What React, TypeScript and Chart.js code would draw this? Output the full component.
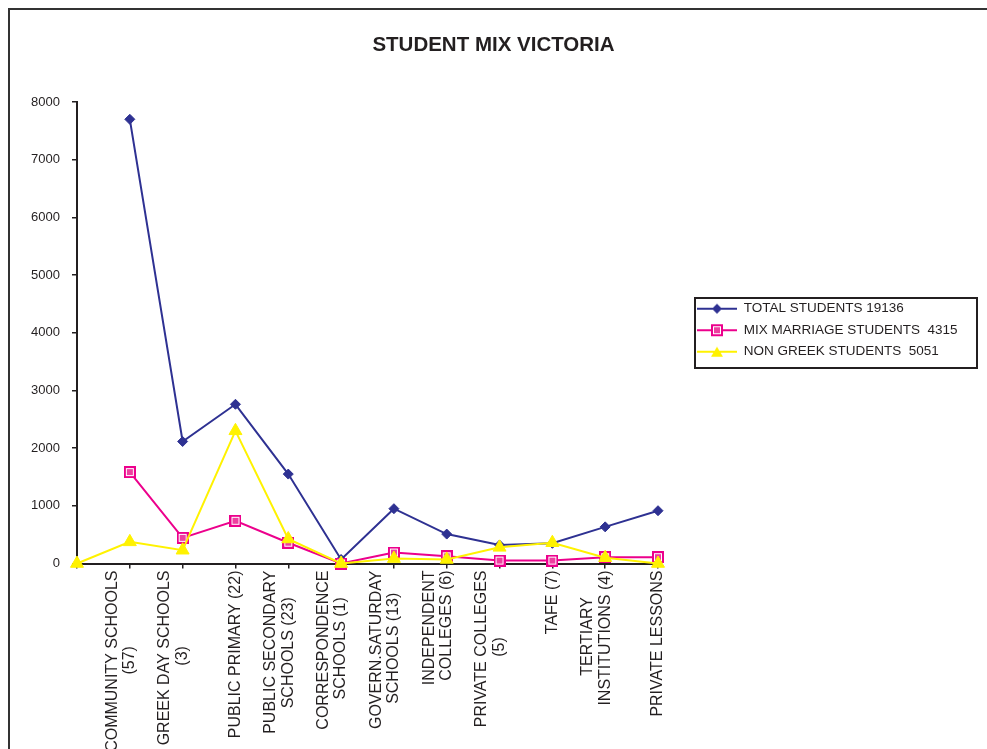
import React, { useEffect, useRef } from 'react';
import { Chart, registerables } from 'chart.js';

Chart.register(...registerables);

// ---------------- data ----------------
const categories: string[][] = [
  [],
  ['COMMUNITY SCHOOLS', '(57)'],
  ['GREEK DAY SCHOOLS', '(3)'],
  ['PUBLIC PRIMARY (22)'],
  ['PUBLIC SECONDARY', 'SCHOOLS (23)'],
  ['CORRESPONDENCE', 'SCHOOLS (1)'],
  ['GOVERN.SATURDAY', 'SCHOOLS (13)'],
  ['INDEPENDENT', 'COLLEGES (6)'],
  ['PRIVATE COLLEGES', '(5)'],
  ['TAFE (7)'],
  ['TERTIARY', 'INSTITUTIONS (4)'],
  ['PRIVATE LESSONS'],
];

const totalStudents = [null, 7700, 2115, 2760, 1550, 70, 950, 510, 320, 350, 635, 915];
const mixMarriageStudents = [null, 1585, 445, 740, 360, 0, 190, 125, 50, 50, 110, 110];
const nonGreekStudents = [0, 375, 230, 2300, 425, 0, 85, 70, 280, 360, 100, 0];

const seriesNames = [
  'TOTAL STUDENTS 19136',
  'MIX MARRIAGE STUDENTS  4315',
  'NON GREEK STUDENTS  5051',
];

const yTicks = [0, 1000, 2000, 3000, 4000, 5000, 6000, 7000, 8000];
const chartTitle = 'STUDENT MIX VICTORIA';

// ---------------- styles ----------------
const FONT = '"Liberation Sans", Arial, Helvetica, sans-serif';
const INK = '#231F20';
const BLUE = '#2E3192';
const PINK = '#EC008C';
const YELLOW = '#FFF200';

const CANVAS_W = 977;
const CANVAS_H = 739;
const X_FONT = 16;
const X_LINE_H = 1.1;
const LEGEND_W = 319;

const measureCtx = document.createElement('canvas').getContext('2d') as CanvasRenderingContext2D;

function layoutLabel(lines: string[]): string[] {
  if (!lines || !lines.length) return [''];
  measureCtx.font = `${X_FONT}px ${FONT}`;
  const widths = lines.map((l) => measureCtx.measureText(l).width);
  const maxW = Math.max(...widths);
  const spaceW = measureCtx.measureText(' ').width || 4;
  const padded = lines.map((l, i) => l + ' '.repeat(Math.max(0, Math.round((maxW - widths[i]) / 2 / spaceW))));
  return padded.length === 1 ? ['', padded[0]] : padded;
}

function makePinkSquare(): HTMLCanvasElement {
  const c = document.createElement('canvas');
  c.width = 12;
  c.height = 12;
  const g = c.getContext('2d') as CanvasRenderingContext2D;
  g.fillStyle = PINK;
  g.fillRect(0, 0, 12, 12);
  g.strokeStyle = '#ffffff';
  g.lineWidth = 1;
  g.strokeRect(2.5, 2.5, 7, 7);
  g.fillStyle = '#EE3FA0';
  g.fillRect(3, 3, 6, 6);
  return c;
}

function makeLegendSample(kind: number): HTMLCanvasElement {
  const c = document.createElement('canvas');
  c.width = 40;
  c.height = 16;
  const g = c.getContext('2d') as CanvasRenderingContext2D;
  const color = kind === 0 ? BLUE : kind === 1 ? PINK : YELLOW;
  g.strokeStyle = color;
  g.lineWidth = 2;
  g.beginPath();
  g.moveTo(0, 8);
  g.lineTo(40, 8);
  g.stroke();
  g.fillStyle = color;
  if (kind === 0) {
    g.beginPath();
    g.moveTo(20, 3);
    g.lineTo(25, 8);
    g.lineTo(20, 13);
    g.lineTo(15, 8);
    g.closePath();
    g.fill();
  } else if (kind === 1) {
    g.drawImage(makePinkSquare(), 14, 2);
  } else {
    g.beginPath();
    g.moveTo(20, 3);
    g.lineTo(26, 13);
    g.lineTo(14, 13);
    g.closePath();
    g.fill();
  }
  return c;
}

const legendBoxPlugin = {
  id: 'legendBox',
  beforeLayout(chart: any) {
    const lg = chart.legend;
    if (lg && !lg.__patched) {
      const orig = lg.fit.bind(lg);
      lg.fit = function () {
        orig();
        this.width = LEGEND_W;
      };
      lg.__patched = true;
    }
  },
  afterLayout(chart: any) {
    const lg = chart.legend;
    if (lg) {
      lg.left += 31;
      lg.top = 89.5;
      lg.bottom = 551;
      lg.height = lg.bottom - lg.top;
    }
  },
  afterDraw(chart: any) {
    const lg = chart.legend;
    if (!lg || !lg.legendHitBoxes || !lg.legendHitBoxes.length) return;
    const hb = lg.legendHitBoxes;
    const first = hb[0];
    const last = hb[hb.length - 1];
    const ctx = chart.ctx;
    const left = first.left - 2;
    const right = chart.width - 10;
    const top = first.top - 4;
    const bottom = last.top + last.height + 9.5;
    ctx.save();
    ctx.strokeStyle = INK;
    ctx.lineWidth = 2;
    ctx.strokeRect(left, top, right - left, bottom - top);
    ctx.restore();
  },
};

export default function App() {
  const canvasRef = useRef<HTMLCanvasElement | null>(null);

  useEffect(() => {
    document.documentElement.style.overflow = 'hidden';
    const canvas = canvasRef.current;
    if (!canvas) return;
    Chart.defaults.font.family = FONT;
    const pinkSquare = makePinkSquare();
    const legendSamples = [0, 1, 2].map((k) => makeLegendSample(k));

    const chart = new Chart(canvas, {
      type: 'line',
      data: {
        labels: categories.map((c) => c.join(' ')),
        datasets: [
          {
            label: seriesNames[0],
            data: totalStudents,
            borderColor: BLUE,
            backgroundColor: BLUE,
            borderWidth: 2,
            pointStyle: 'rectRot',
            pointRadius: 5,
            pointBorderWidth: 1,
            pointBackgroundColor: BLUE,
            pointBorderColor: BLUE,
            clip: false,
            order: 2,
          },
          {
            label: seriesNames[1],
            data: mixMarriageStudents,
            borderColor: PINK,
            backgroundColor: PINK,
            borderWidth: 2,
            pointStyle: pinkSquare,
            pointRadius: 6,
            clip: false,
            order: 1,
          },
          {
            label: seriesNames[2],
            data: nonGreekStudents,
            borderColor: YELLOW,
            backgroundColor: YELLOW,
            borderWidth: 2,
            pointStyle: 'triangle',
            pointRadius: 7.5,
            pointBorderWidth: 1,
            pointBackgroundColor: YELLOW,
            pointBorderColor: YELLOW,
            clip: false,
            order: 0,
          },
        ] as any,
      },
      options: {
        animation: false,
        responsive: false,
        layout: { padding: { left: 0, right: 10, top: 0, bottom: 0 } },
        elements: { line: { tension: 0 } },
        scales: {
          x: {
            type: 'category',
            offset: false,
            grid: {
              display: true,
              drawOnChartArea: false,
              drawTicks: true,
              tickLength: 5,
              color: INK,
              lineWidth: 1.5,
            },
            border: { display: true, color: INK, width: 2 },
            ticks: {
              autoSkip: false,
              minRotation: 90,
              maxRotation: 90,
              padding: 2,
              labelOffset: -X_FONT * X_LINE_H,
              color: INK,
              font: { size: X_FONT, lineHeight: X_LINE_H },
              callback: (_v: any, i: number) => layoutLabel(categories[i]),
            },
            afterFit: (s: any) => {
              s.height = CANVAS_H - 553.5;
            },
          },
          y: {
            min: 0,
            max: 8000,
            grid: {
              display: true,
              drawOnChartArea: false,
              drawTicks: true,
              tickLength: 5,
              color: INK,
              lineWidth: 1.5,
            },
            border: { display: true, color: INK, width: 2 },
            ticks: {
              padding: 12,
              color: INK,
              font: { size: 13 },
              callback: (v: any) => String(v),
            },
            afterBuildTicks: (s: any) => {
              s.ticks = yTicks.map((v) => ({ value: v }));
            },
            afterFit: (s: any) => {
              s.width = 67;
            },
          },
        },
        plugins: {
          tooltip: { enabled: false },
          title: {
            display: true,
            text: chartTitle,
            color: INK,
            font: { size: 20.5, weight: 'bold' },
            padding: { top: 23, bottom: 44.4 },
          },
          legend: {
            display: true,
            position: 'right',
            labels: {
              usePointStyle: true,
              pointStyleWidth: 40,
              padding: 8,
              color: INK,
              font: { size: 13.5 },
              generateLabels: () =>
                seriesNames.map((name, i) => ({
                  text: name,
                  pointStyle: legendSamples[i],
                  fillStyle: 'transparent',
                  strokeStyle: 'transparent',
                  lineWidth: 0,
                  hidden: false,
                  datasetIndex: i,
                  fontColor: INK,
                })) as any,
            },
          },
        },
      } as any,
      plugins: [legendBoxPlugin],
    });

    return () => {
      chart.destroy();
    };
  }, []);

  return (
    <div
      style={{
        position: 'fixed',
        left: 8,
        top: 8,
        borderTop: '2px solid #333',
        borderLeft: '2px solid #333',
        width: 1000,
        height: 760,
        background: '#fff',
      }}
    >
      <canvas ref={canvasRef} width={CANVAS_W} height={CANVAS_H} style={{ display: 'block' }} />
    </div>
  );
}
